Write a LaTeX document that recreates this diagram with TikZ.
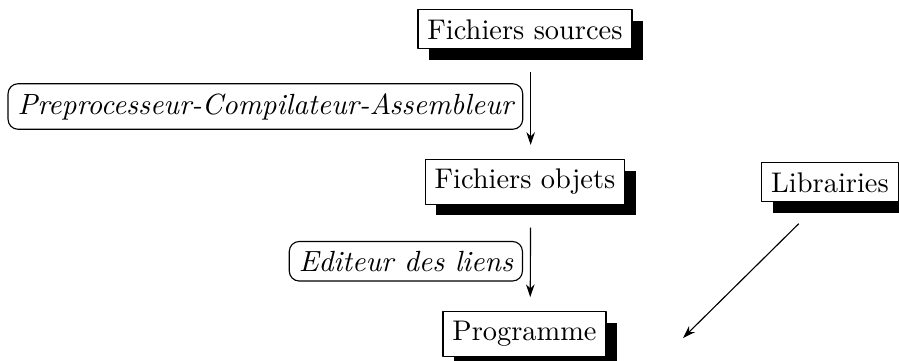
\documentclass[tikz,border=0pt]{standalone}
\usetikzlibrary{shadows,arrows.meta}
\tikzset{
  fichier/.style={draw, fill=white, drop shadow={shadow xshift=3.8pt, shadow yshift=-3.8pt, fill=black, opacity=1}},
  etape/.style={draw, fill=white, rounded corners=3.5pt, font=\fontsize{10.28pt}{12pt}\selectfont\itshape},
}
\begin{document}
\begin{tikzpicture}[line join=round, >={Stealth[length=4.5pt,width=3pt]}]
	\useasboundingbox (0,0) rectangle (11.124,4.455);
	\node[fichier] (src) at (6.496,4.091) {Fichiers sources};
	\node[fichier] (obj) at (6.496,2.203) {Fichiers objets};
	\node[fichier] (prog) at (6.490,0.322) {Programme};
	\node[fichier] (lib) at (10.270,2.198) {Librairies};
	\coordinate (libend) at (8.451,0.272);
	%\draw (lib) -- (prog);
	\draw[->,shorten <=8pt,shorten >=5pt] ([xshift=2pt]src.south) -- node[etape,left=2.6pt,pos=0.52]{Preprocesseur-Compilateur-Assembleur} ([xshift=2pt]obj.north);
	\draw[->,shorten <=8pt,shorten >=5pt] ([xshift=2pt]obj.south) -- node[etape,left=2.6pt,pos=0.53]{Editeur des liens} ([xshift=2pt]prog.north);
	\draw[->] ([shift={(-11pt,-7.5pt)}]lib.south) -- (libend);
\end{tikzpicture}
\end{document}
